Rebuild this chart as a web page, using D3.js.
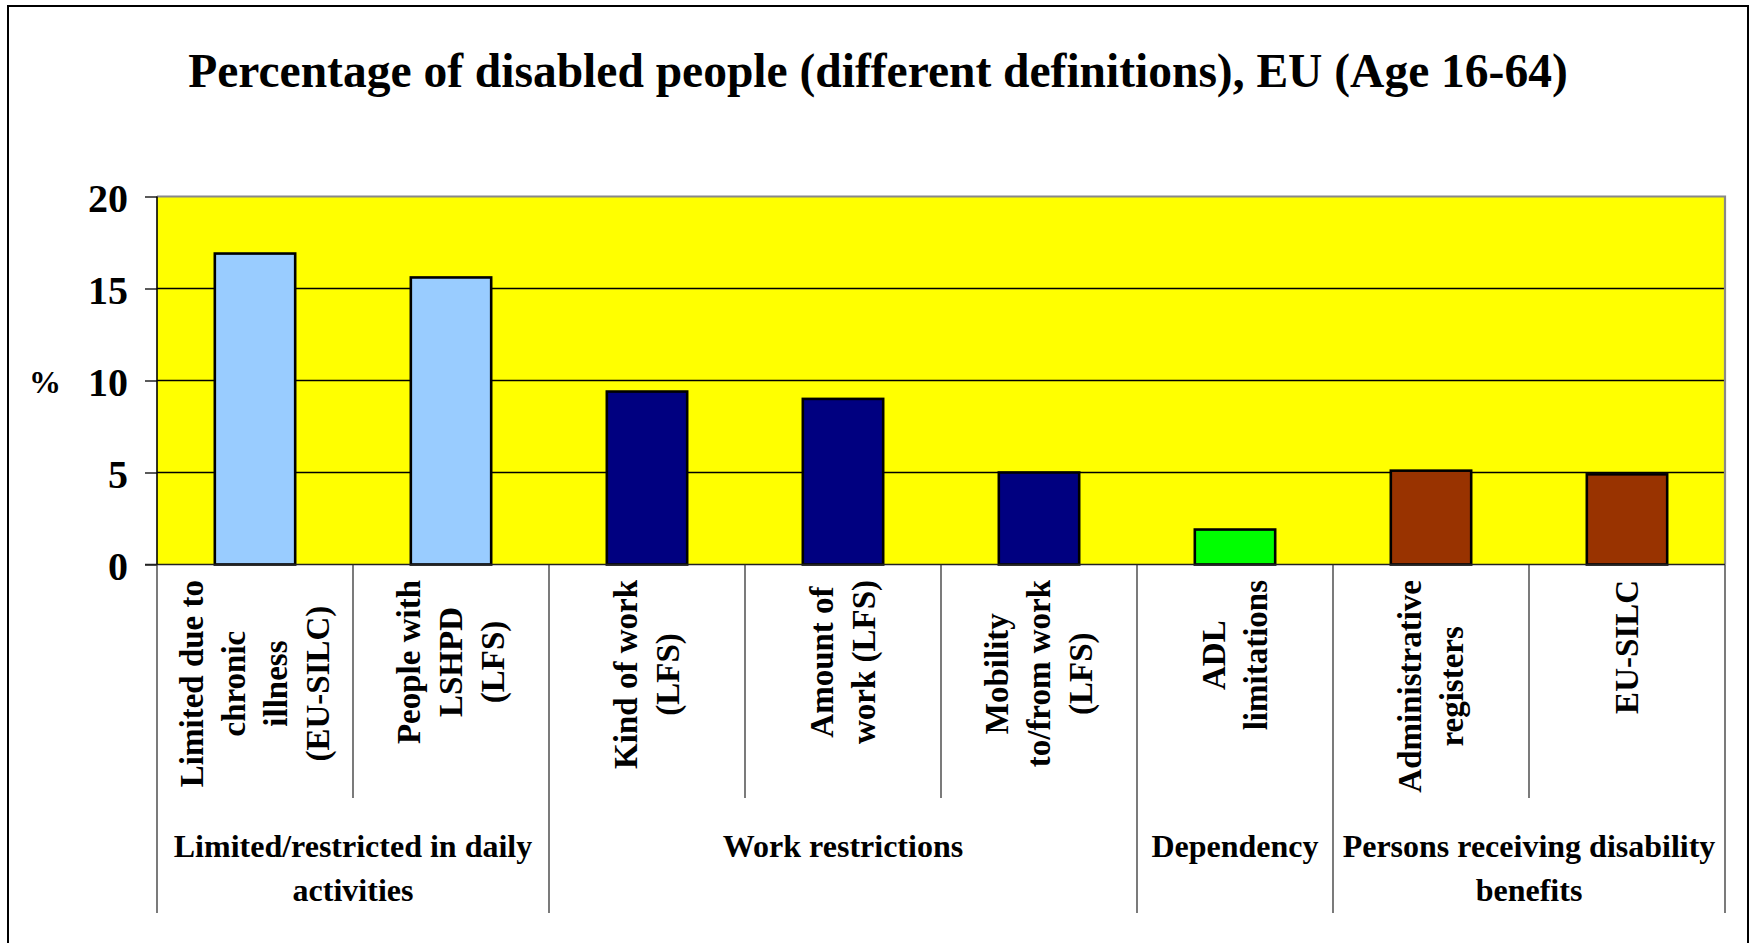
<!DOCTYPE html>
<html><head><meta charset="utf-8">
<script src="https://cdn.jsdelivr.net/npm/d3@7/dist/d3.min.js"></script>
<style>
body{margin:0;background:#fff}
svg{display:block}
text{font-family:"Liberation Serif","Times New Roman",serif;font-weight:bold;fill:#000}
</style>
</head><body>
<svg id="chart" width="1754" height="943"></svg>
<script>
// ---- data ----
const title = "Percentage of disabled people (different definitions), EU (Age 16-64)";
const yAxisLabel = "%";
const categories = [
  ["Limited due to", "chronic", "illness", "(EU-SILC)"],
  ["People with", "LSHPD", "(LFS)"],
  ["Kind of work", "(LFS)"],
  ["Amount of", "work (LFS)"],
  ["Mobility", "to/from work", "(LFS)"],
  ["ADL", "limitations"],
  ["Administrative", "registers"],
  ["EU-SILC"]
];
const values = [16.9, 15.6, 9.4, 9.0, 5.0, 1.9, 5.1, 4.9];
const barColors = ["#99CCFF", "#99CCFF", "#000080", "#000080", "#000080", "#00FF00", "#993300", "#993300"];
const groupLabels = [
  ["Limited/restricted in daily", "activities"],
  ["Work restrictions"],
  ["Dependency"],
  ["Persons receiving disability", "benefits"]
];
const groupSpans = [2, 3, 1, 2];   // number of categories per group
const yTicks = [0, 5, 10, 15, 20];

// ---- layout ----
const svg = d3.select("#chart");
const plot = {left: 157, right: 1725, top: 196.5, bottom: 564.5};
const ids = categories.map((d, i) => i);

const x = d3.scaleBand().domain(ids).range([plot.left, plot.right]).padding(0);
const y = d3.scaleLinear().domain([0, 20]).range([plot.bottom, plot.top]);
const barFrac = 0.41;

// outer frame
svg.append("rect").attr("x", 8).attr("y", 6).attr("width", 1740).attr("height", 1100)
  .attr("fill", "none").attr("stroke", "#000").attr("stroke-width", 2);

// title
svg.append("text").attr("x", 878).attr("y", 87).attr("text-anchor", "middle")
  .style("font-size", "47.5px").text(title);

// plot background
svg.append("rect").attr("x", plot.left).attr("y", plot.top)
  .attr("width", plot.right - plot.left).attr("height", plot.bottom - plot.top)
  .attr("fill", "#FFFF00");

// gridlines
svg.append("g").selectAll("line").data(yTicks.filter(t => t > 0 && t < 20)).join("line")
  .attr("x1", plot.left).attr("x2", plot.right)
  .attr("y1", d => y(d)).attr("y2", d => y(d))
  .attr("stroke", "#000").attr("stroke-width", 1.3);

// plot border top/right (grey)
svg.append("path")
  .attr("d", `M${plot.left},${plot.top}H${plot.right}V${plot.bottom}`)
  .attr("fill", "none").attr("stroke", "#888").attr("stroke-width", 2.2);

// bars
svg.append("g").selectAll("rect").data(values).join("rect")
  .attr("x", (d, i) => x(i) + x.bandwidth() * (1 - barFrac) / 2)
  .attr("width", x.bandwidth() * barFrac)
  .attr("y", d => y(d))
  .attr("height", d => y(0) - y(d))
  .attr("fill", (d, i) => barColors[i])
  .attr("stroke", "#000").attr("stroke-width", 2.6);

// y axis
const yAxis = d3.axisLeft(y).tickValues(yTicks).tickSize(12).tickFormat(d3.format("d"));
const gy = svg.append("g").attr("transform", `translate(${plot.left},0)`).call(yAxis);
gy.select(".domain").remove();
gy.selectAll(".tick line").attr("stroke", "#000").attr("stroke-width", 1.3);
gy.selectAll(".tick text").attr("x", -29).attr("dy", "0.38em")
  .style("font-size", "40px").style("font-family", "'Liberation Serif','Times New Roman',serif")
  .style("font-weight", "bold").attr("fill", "#000");

// y axis label
svg.append("text").attr("x", 45).attr("y", 393).attr("text-anchor", "middle")
  .style("font-size", "32px").text(yAxisLabel);

// x axis line
svg.append("line").attr("x1", plot.left - 12).attr("x2", plot.right)
  .attr("y1", plot.bottom).attr("y2", plot.bottom)
  .attr("stroke", "#222").attr("stroke-width", 1.6);

// boundary lines (category & group)
const groupStarts = [];
let acc = 0;
groupSpans.forEach(s => { groupStarts.push(acc); acc += s; });
const boundaryIdx = d3.range(categories.length + 1);
const isGroupBoundary = i => i === categories.length || groupStarts.includes(i);
const boundX = i => i < categories.length ? x(i) : x(categories.length - 1) + x.bandwidth();

svg.append("line").attr("x1", plot.left).attr("x2", plot.left)
  .attr("y1", plot.top).attr("y2", plot.bottom).attr("stroke", "#000").attr("stroke-width", 1.6);

svg.append("g").selectAll("line").data(boundaryIdx).join("line")
  .attr("x1", i => boundX(i)).attr("x2", i => boundX(i))
  .attr("y1", plot.bottom).attr("y2", i => isGroupBoundary(i) ? 913 : 798)
  .attr("stroke", "#333").attr("stroke-width", 1.3);

// category labels (rotated)
const catTop = 580, lineGap = 42, catFont = 33;
categories.forEach((lines, i) => {
  const cx = x(i) + x.bandwidth() / 2;
  const g = svg.append("g").attr("transform", `translate(${cx},${catTop}) rotate(-90)`);
  const texts = lines.map((t, j) => g.append("text")
    .attr("text-anchor", "middle")
    .attr("y", (j - (lines.length - 1) / 2) * lineGap + catFont * 0.33)
    .style("font-size", catFont + "px").text(t));
  const maxLen = d3.max(texts, t => t.node().getComputedTextLength());
  texts.forEach(t => t.attr("x", -maxLen / 2));
});

// group labels
groupLabels.forEach((lines, gi) => {
  const start = groupStarts[gi], end = start + groupSpans[gi];
  const cx = (boundX(start) + boundX(end)) / 2;
  lines.forEach((t, j) => {
    svg.append("text").attr("x", cx).attr("y", 857 + j * 44)
      .attr("text-anchor", "middle").style("font-size", "32px").text(t);
  });
});
</script>
</body></html>
